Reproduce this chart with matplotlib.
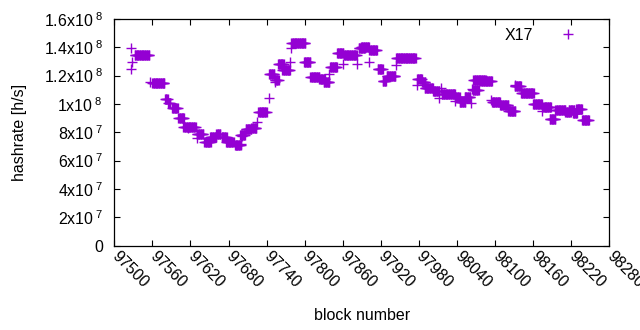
import numpy as np
import matplotlib
matplotlib.use("Agg")
import matplotlib.pyplot as plt

plt.rcParams['font.family'] = ['Liberation Sans', 'DejaVu Sans']
plt.rcParams['mathtext.fontset'] = 'custom'
plt.rcParams['mathtext.rm'] = 'Liberation Sans'
plt.rcParams['mathtext.it'] = 'Liberation Sans:italic'

# runs of blocks with the same hashrate (first block, last block, value in 1e8 h/s)
seg_start = [97532, 97560, 97580, 97585, 97591, 97601, 97609, 97630, 97642, 97651,
             97661, 97669, 97676, 97690, 97698, 97707, 97716, 97727, 97744, 97753,
             97758, 97765, 97779, 97799, 97809, 97823, 97830, 97840, 97851, 97862,
             97885, 97889, 97902, 97915, 97923, 97929, 97944, 97977, 97985, 97989,
             98002, 98016, 98037, 98044, 98052, 98065, 98066, 98077, 98095, 98108,
             98121, 98131, 98141, 98160, 98176, 98186, 98195, 98211, 98216, 98223,
             98228, 98237]
seg_end = [97555, 97579, 97584, 97588, 97600, 97610, 97628, 97640, 97652, 97661,
           97667, 97677, 97688, 97699, 97706, 97716, 97724, 97740, 97752, 97759,
           97767, 97777, 97801, 97809, 97823, 97832, 97839, 97851, 97861, 97882,
           97895, 97901, 97914, 97923, 97928, 97943, 97975, 97985, 97990, 98002,
           98012, 98037, 98044, 98053, 98061, 98074, 98085, 98095, 98108, 98121,
           98132, 98141, 98161, 98174, 98188, 98195, 98211, 98219, 98225, 98229,
           98237, 98248]
seg_value = [1.342, 1.145, 1.032, 1.008, 0.969, 0.904, 0.839, 0.791, 0.731, 0.768,
             0.788, 0.765, 0.735, 0.710, 0.781, 0.821, 0.828, 0.945, 1.213, 1.172,
             1.280, 1.241, 1.427, 1.293, 1.187, 1.175, 1.156, 1.258, 1.362, 1.342,
             1.392, 1.399, 1.378, 1.244, 1.159, 1.199, 1.327, 1.174, 1.154, 1.114,
             1.093, 1.067, 1.048, 1.011, 1.046, 1.096, 1.166, 1.163, 1.011, 0.990,
             0.952, 1.128, 1.080, 0.999, 0.976, 0.892, 0.960, 0.945, 0.957, 0.935,
             0.963, 0.886]

# single scattered blocks
pt_block = [97527, 97528, 97527, 97557, 97616, 97631, 97699, 97701, 97725, 97744,
            97753, 97778, 97777, 97839, 97861, 97882, 97902, 97944, 97977, 98012,
            98015, 98037, 98062, 98063, 98093, 98131, 98174]
pt_value = [1.397, 1.299, 1.244, 1.156, 0.828, 0.757, 0.715, 0.773, 0.874, 1.039,
            1.156, 1.396, 1.293, 1.210, 1.279, 1.279, 1.293, 1.274, 1.133, 1.043,
            1.110, 1.020, 1.004, 1.103, 1.027, 1.133, 0.950]

x_ticks = list(range(97500, 98281, 60))
y_ticks = [0, 2e7, 4e7, 6e7, 8e7, 1e8, 1.2e8, 1.4e8, 1.6e8]
y_tick_labels = ['0', r'2x10$^{\ 7}$', r'4x10$^{\ 7}$', r'6x10$^{\ 7}$', r'8x10$^{\ 7}$',
                 r'1x10$^{\ 8}$', r'1.2x10$^{\ 8}$', r'1.4x10$^{\ 8}$', r'1.6x10$^{\ 8}$']

blocks = []
rates = []
for s, e, v in zip(seg_start, seg_end, seg_value):
    for b in range(s, e + 1):
        blocks.append(b)
        rates.append(v * 1e8)
blocks += pt_block
rates += [v * 1e8 for v in pt_value]

fs = 11.5
fig = plt.figure(figsize=(6.4, 3.3), dpi=100)
ax = fig.add_axes([0.1786, 0.2555, 0.7734, 0.6872])

ax.plot(blocks, rates, linestyle='none', marker='+', color='#9400d3',
        markersize=6.5, markeredgewidth=1.0, label='X17')

ax.set_xlim(97500, 98280)
ax.set_ylim(0, 1.6e8)
ax.set_xticks(x_ticks)
ax.set_xticklabels([str(t) for t in x_ticks], rotation=-45, ha='left', va='center',
                   rotation_mode='anchor')
ax.set_yticks(y_ticks)
ax.set_yticklabels(y_tick_labels)
ax.tick_params(direction='in', length=4, width=0.8, top=True, right=True,
               labelsize=fs, colors='black')
ax.tick_params(axis='x', pad=6)
ax.tick_params(axis='y', pad=8)
for sp in ax.spines.values():
    sp.set_linewidth(0.9)

ax.set_xlabel('block number', fontsize=fs, labelpad=12)
ax.set_ylabel('hashrate [h/s]', fontsize=fs, labelpad=12)

ax.legend(loc='upper right', bbox_to_anchor=(0.962, 0.99), borderaxespad=0,
          frameon=False, markerfirst=False, handletextpad=1.2, fontsize=fs)

fig.savefig('out.png', dpi=100)
